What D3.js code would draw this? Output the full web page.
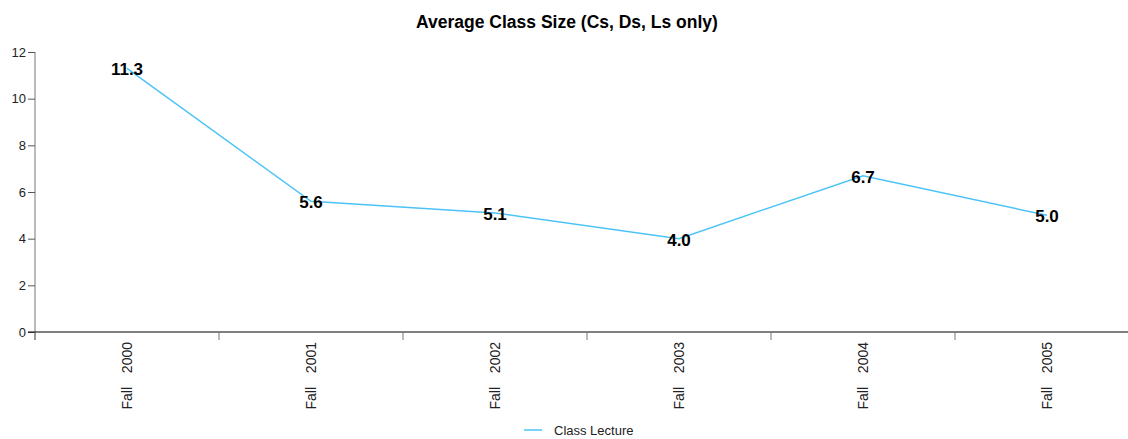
<!DOCTYPE html>
<html lang="en">
<head>
    <meta charset="UTF-8">
    <title>Average Class Size</title>
    <script src="https://d3js.org/d3.v7.min.js"></script>
    <style>
        body { margin: 0; background: #fff; }
        text { font-family: "Liberation Sans", Arial, sans-serif; }
    </style>
</head>
<body>
    <div id="chart"></div>
    <script>
        // data
        const terms = ["Fall  2000", "Fall  2001", "Fall  2002", "Fall  2003", "Fall  2004", "Fall  2005"];
        const classLecture = [11.3, 5.6, 5.1, 4.0, 6.7, 5.0];
        const yTicks = [0, 2, 4, 6, 8, 10, 12];

        const width = 1128, height = 439;
        const margin = { top: 52, right: -11, bottom: 107, left: 35 };

        const svg = d3.select("#chart")
            .append("svg")
            .attr("width", width)
            .attr("height", height);

        const x = d3.scaleBand()
            .domain(terms)
            .range([margin.left, width - margin.right]);

        const y = d3.scaleLinear()
            .domain([0, 12])
            .range([height - margin.bottom, margin.top]);

        // title
        svg.append("text")
            .attr("x", 567)
            .attr("y", 28)
            .attr("text-anchor", "middle")
            .attr("font-size", "17.5px")
            .attr("font-weight", "bold")
            .text("Average Class Size (Cs, Ds, Ls only)");

        // y axis
        const yAxis = svg.append("g")
            .attr("transform", `translate(${margin.left},0)`)
            .call(d3.axisLeft(y).tickValues(yTicks).tickSize(7).tickPadding(2).tickSizeOuter(0));
        yAxis.select(".domain").attr("stroke", "#777").attr("d", `M0,${margin.top}V${y(0) + 8}`);
        yAxis.selectAll(".tick line").attr("stroke", "#555");
        yAxis.selectAll(".tick text").attr("font-size", "13px").attr("fill", "#222")
            .attr("font-family", "'Liberation Sans', Arial, sans-serif");

        // x axis
        const xAxis = svg.append("g")
            .attr("transform", `translate(0,${y(0)})`)
            .call(d3.axisBottom(x).tickSize(0).tickSizeOuter(0));
        xAxis.select(".domain").attr("stroke", "#000").attr("d", `M${margin.left - 7},0H${width}`);
        xAxis.selectAll(".tick text")
            .attr("font-size", "14px")
            .attr("fill", "#222")
            .attr("font-family", "'Liberation Sans', Arial, sans-serif")
            .attr("transform", "rotate(-90)")
            .attr("text-anchor", "end")
            .attr("x", -10)
            .attr("y", 0)
            .attr("dy", "0.35em")
            .style("white-space", "pre")
            .style("word-spacing", "3px");

        // band boundary ticks
        svg.append("g")
            .selectAll("line")
            .data(terms)
            .join("line")
            .attr("x1", d => x(d))
            .attr("x2", d => x(d))
            .attr("y1", y(0))
            .attr("y2", y(0) + 8)
            .attr("stroke", "#777");

        // line
        const line = d3.line()
            .x((d, i) => x(terms[i]) + x.bandwidth() / 2)
            .y(d => y(d));

        svg.append("path")
            .datum(classLecture)
            .attr("fill", "none")
            .attr("stroke", "#4cc3f7")
            .attr("stroke-width", 1.5)
            .attr("d", line);

        // value labels
        svg.append("g")
            .selectAll("text")
            .data(classLecture)
            .join("text")
            .attr("x", (d, i) => x(terms[i]) + x.bandwidth() / 2)
            .attr("y", d => y(d) + 7)
            .attr("text-anchor", "middle")
            .attr("font-size", "17px")
            .attr("font-weight", "bold")
            .attr("fill", "#000")
            .text(d => d.toFixed(1));

        // legend
        const legend = svg.append("g").attr("transform", "translate(524,430)");
        legend.append("line")
            .attr("x1", 0).attr("x2", 18)
            .attr("stroke", "#4cc3f7")
            .attr("stroke-width", 1.5);
        legend.append("text")
            .attr("x", 30)
            .attr("y", 4.5)
            .attr("font-size", "13px")
            .attr("fill", "#222")
            .text("Class Lecture");
    </script>
</body>
</html>
